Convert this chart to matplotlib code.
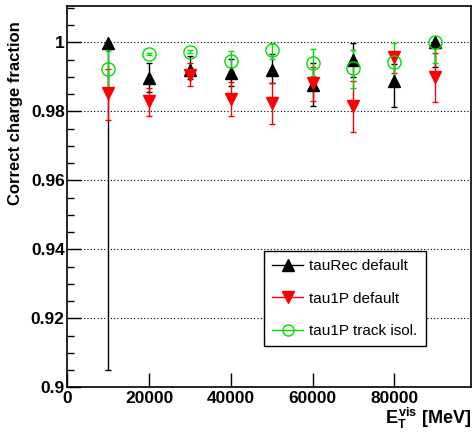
import numpy as np
import matplotlib.pyplot as plt
from matplotlib.lines import Line2D
from matplotlib.ticker import MultipleLocator

plt.rcParams['font.family'] = ['Liberation Sans', 'DejaVu Sans']
plt.rcParams['mathtext.fontset'] = 'custom'
plt.rcParams['mathtext.rm'] = 'Liberation Sans:bold'
plt.rcParams['mathtext.it'] = 'Liberation Sans:bold'
plt.rcParams['mathtext.bf'] = 'Liberation Sans:bold'

# visible tau E_T bins (MeV)
et = [10000, 20000, 30000, 40000, 50000, 60000, 70000, 80000, 90000]

# tauRec default
taurec = [0.9997, 0.9896, 0.9920, 0.9910, 0.9920, 0.9876, 0.9949, 0.9888, 1.0000]
taurec_lo = [0.0947, 0.0040, 0.0025, 0.0037, 0.0039, 0.0061, 0.0049, 0.0075, 0.0071]
taurec_hi = [0.0003, 0.0043, 0.0039, 0.0041, 0.0045, 0.0063, 0.0050, 0.0050, 0.0000]

# tau1P default
tau1p = [0.9854, 0.9830, 0.9905, 0.9836, 0.9825, 0.9881, 0.9815, 0.9957, 0.9900]
tau1p_lo = [0.0079, 0.0044, 0.0032, 0.0051, 0.0062, 0.0050, 0.0076, 0.0047, 0.0072]
tau1p_hi = [0.0070, 0.0037, 0.0034, 0.0050, 0.0057, 0.0048, 0.0073, 0.0012, 0.0070]

# tau1P track isolation
tau1p_iso = [0.9922, 0.9966, 0.9973, 0.9947, 0.9978, 0.9941, 0.9925, 0.9944, 1.0000]
tau1p_iso_lo = [0.0057, 0.0004, 0.0004, 0.0030, 0.0027, 0.0040, 0.0057, 0.0055, 0.0059]
tau1p_iso_hi = [0.0054, 0.0004, 0.0004, 0.0029, 0.0021, 0.0040, 0.0053, 0.0055, 0.0000]

fig = plt.figure(figsize=(4.74, 4.33), dpi=100)
ax = fig.add_axes([0.1424, 0.1055, 0.8513, 0.8805])

series = [
    (taurec, taurec_lo, taurec_hi, 'black', '^', 'black', 'tauRec default'),
    (tau1p, tau1p_lo, tau1p_hi, 'red', 'v', 'red', 'tau1P default'),
    (tau1p_iso, tau1p_iso_lo, tau1p_iso_hi, '#00dd00', 'o', 'none', 'tau1P track isol.'),
]

handles = []
for vals, lo, hi, col, mk, fc, lab in series:
    ax.errorbar(et, vals, yerr=[lo, hi], fmt='none', ecolor=col, elinewidth=1,
                capsize=2.5, capthick=1, zorder=2)
    ax.plot(et, vals, ls='none', marker=mk, ms=9 if mk != 'o' else 9.5,
            mfc=fc, mec=col, mew=1, zorder=3)
    handles.append(Line2D([], [], color=col, lw=1, marker=mk, ms=8,
                          mfc=fc, mec=col, label=lab))

ax.set_xlim(0, 98800)
ax.set_ylim(0.9, 1.0105)

ax.yaxis.set_minor_locator(MultipleLocator(0.005))
ax.set_yticks([0.9, 0.92, 0.94, 0.96, 0.98, 1.0])
ax.set_yticklabels(['0.9', '0.92', '0.94', '0.96', '0.98', '1'])
ax.set_xticks([0, 20000, 40000, 60000, 80000])
ax.set_xticklabels(['0', '20000', '40000', '60000', '80000'])

ax.tick_params(axis='both', which='both', direction='in', top=False, right=False)
ax.tick_params(axis='y', which='major', length=10, width=1, labelsize=12.5, pad=2)
ax.tick_params(axis='y', which='minor', length=5, width=1)
ax.tick_params(axis='x', which='major', length=10, width=1, labelsize=12.5, pad=3)
for lab in ax.get_xticklabels() + ax.get_yticklabels():
    lab.set_fontweight('bold')

for sp in ax.spines.values():
    sp.set_linewidth(1.2)

ax.grid(axis='y', which='major', color='black', ls=(0, (1, 2)), lw=0.8)
ax.set_axisbelow(True)

ax.set_ylabel('Correct charge fraction', fontsize=12, fontweight='bold')
ax.yaxis.set_label_coords(-0.11, 0.72)
fig.text(0.995, 0.005, r'$E_{T}^{vis}$ [MeV]', ha='right', va='bottom',
         fontsize=13, fontweight='bold')

leg = ax.legend(handles=handles, loc='upper left', bbox_to_anchor=(0.487, 0.3575),
                fontsize=11, frameon=True, fancybox=False, framealpha=1,
                edgecolor='black', handlelength=2.0, handletextpad=0.4,
                labelspacing=1.2, borderpad=0.55, borderaxespad=0)
leg.get_frame().set_linewidth(1)

fig.savefig('out.png', dpi=100)
